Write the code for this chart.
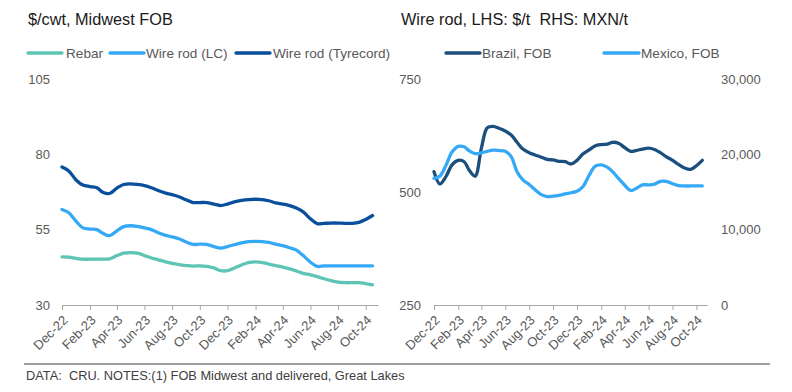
<!DOCTYPE html>
<html>
<head>
<meta charset="utf-8">
<script src="https://cdn.jsdelivr.net/npm/d3@7"></script>
<style>
  html, body { margin: 0; padding: 0; background: #fff; }
  svg { display: block; font-family: "Liberation Sans", Arial, sans-serif; }
  .axis text { fill: #595959; font-size: 13px; }
  .axis path, .axis line { stroke: #a6a6a6; }
  .title { font-size: 16.3px; fill: #1a1a1a; }
  .legend text { font-size: 13.6px; fill: #595959; }
  .note { font-size: 12.8px; fill: #404040; }
</style>
</head>
<body>
<svg id="chart" width="792" height="392"></svg>
<script>
const d3w = window.d3;

// Semi-monthly observation dates (shared by both panels)
const dates = [
  "2022-12-01","2022-12-16","2023-01-01","2023-01-16","2023-02-01","2023-02-16",
  "2023-03-01","2023-03-16","2023-04-01","2023-04-16","2023-05-01","2023-05-16",
  "2023-06-01","2023-06-16","2023-07-01","2023-07-16","2023-08-01","2023-08-16",
  "2023-09-01","2023-09-16","2023-10-01","2023-10-16","2023-11-01","2023-11-16",
  "2023-12-01","2023-12-16","2024-01-01","2024-01-16","2024-02-01","2024-02-16",
  "2024-03-01","2024-03-16","2024-04-01","2024-04-16","2024-05-01","2024-05-16",
  "2024-06-01","2024-06-16","2024-07-01","2024-07-16","2024-08-01","2024-08-16",
  "2024-09-01","2024-09-16","2024-10-01","2024-10-16"
];
const tickLabels = ["Dec-22","Feb-23","Apr-23","Jun-23","Aug-23","Oct-23","Dec-23","Feb-24","Apr-24","Jun-24","Aug-24","Oct-24"];

// Left panel: $/cwt, Midwest FOB
const rebar = [
  46.0,45.9,45.5,45.2,45.2,45.2,45.2,45.3,46.4,47.2,47.4,47.2,
  46.4,45.6,45.0,44.4,43.8,43.4,43.1,42.9,43.0,42.8,42.3,41.4,
  41.4,42.3,43.3,44.1,44.3,44.1,43.6,43.1,42.6,42.0,41.3,40.5,
  40.0,39.4,38.7,38.1,37.6,37.4,37.4,37.4,37.1,36.7
];
const wireRodLC = [
  61.7,60.6,57.8,55.6,55.2,55.0,53.8,53.0,54.6,56.0,56.3,56.1,
  55.6,55.0,54.0,53.2,52.6,52.0,50.9,50.1,50.2,50.1,49.4,48.9,
  49.4,50.0,50.6,51.0,51.1,51.0,50.8,50.2,49.7,49.0,48.2,46.4,
  44.2,42.8,43.0,43.0,43.0,43.0,43.0,43.0,43.0,43.0
];
const wireRodTyrecord = [
  75.8,74.5,71.5,69.8,69.3,68.9,67.4,67.0,68.8,70.0,70.2,70.0,
  69.6,68.9,68.0,67.2,66.6,65.9,64.9,64.0,64.0,64.0,63.5,63.0,
  63.5,64.2,64.7,65.0,65.1,65.0,64.6,63.9,63.5,63.0,62.2,60.9,
  58.6,57.0,57.1,57.2,57.2,57.1,57.1,57.4,58.4,59.7
];
const leftTicks = [30, 55, 80, 105];

// Right panel: wire rod, LHS $/t, RHS MXN/t
const brazilFOB = [
  545,518,535,560,570,567,548,535,597,642,645,641,
  635,626,610,595,587,582,577,572,571,568,567,562,
  570,584,593,602,605,606,610,608,598,590,592,595,
  597,594,587,578,570,561,553,550,558,570
];
const mexicoFOB = [
  16800,17100,18600,20300,21050,21000,20450,20100,20200,20400,20550,20500,
  20400,19700,17700,16600,16000,15300,14650,14400,14450,14550,14750,14900,
  15100,15700,17200,18400,18600,18300,17700,16800,15900,15200,15500,15950,
  15950,16050,16400,16400,16100,15850,15800,15800,15800,15800
];
const lhsTicks = [250, 500, 750];
const rhsTicks = [0, 10000, 20000, 30000];

const C_REBAR = "#5ec4b6", C_LIGHT = "#36a9f6", C_DARK = "#0a4f9e", C_BRAZIL = "#1b4f7d";

const parseDay = d3w.timeParse("%Y-%m-%d");
const parseTick = d3w.timeParse("%b-%y");
const when = dates.map(parseDay);
const tickDates = tickLabels.map(parseTick);
const xDomain = [parseDay("2022-12-01"), parseDay("2024-10-28")];

const svg = d3w.select("#chart");
const TOP = 79, BASE = 305;

function xAxis(g, x) {
  g.attr("class", "axis").attr("transform", `translate(0,${BASE})`)
    .call(d3w.axisBottom(x).tickValues(tickDates).tickSize(5).tickSizeOuter(0)
      .tickFormat((d, i) => tickLabels[i]));
  g.selectAll(".tick text")
    .attr("x", 0).attr("y", 0).attr("dy", 0)
    .attr("text-anchor", "end")
    .attr("transform", "translate(6,16) rotate(-45)");
}

function drawLine(g, x, y, vals, color) {
  const pts = vals.map((v, i) => [x(when[i]), y(v)]);
  g.append("path").datum(pts)
    .attr("fill", "none").attr("stroke", color).attr("stroke-width", 3.3)
    .attr("stroke-linejoin", "round").attr("stroke-linecap", "round")
    .attr("d", d3w.line().curve(d3w.curveCatmullRom.alpha(0.5)));
}

function legend(items) {
  const lg = svg.append("g").attr("class", "legend");
  for (const it of items) {
    lg.append("line").attr("x1", it.x1).attr("x2", it.x2).attr("y1", 53).attr("y2", 53)
      .attr("stroke", it.color).attr("stroke-width", 3.3).attr("stroke-linecap", "round");
    lg.append("text").attr("x", it.tx).attr("y", 57.8).text(it.name);
  }
}

// ---- Left panel
{
  const x = d3w.scaleTime().domain(xDomain).range([62, 378]);
  const y = d3w.scaleLinear().domain([30, 105]).range([BASE, TOP]);
  const g = svg.append("g");

  svg.append("text").attr("class", "title").attr("x", 28).attr("y", 25).text("$/cwt, Midwest FOB");

  const ya = g.append("g").attr("class", "axis").attr("transform", "translate(62,0)")
    .call(d3w.axisLeft(y).tickValues(leftTicks).tickSize(0).tickPadding(12));
  ya.select(".domain").remove();
  g.append("g").call(xAxis, x);

  drawLine(g, x, y, rebar, C_REBAR);
  drawLine(g, x, y, wireRodLC, C_LIGHT);
  drawLine(g, x, y, wireRodTyrecord, C_DARK);

  legend([
    { name: "Rebar", color: C_REBAR, x1: 28, x2: 62, tx: 66 },
    { name: "Wire rod (LC)", color: C_LIGHT, x1: 110, x2: 144, tx: 146 },
    { name: "Wire rod (Tyrecord)", color: C_DARK, x1: 236, x2: 270, tx: 273 }
  ]);
}

// ---- Right panel
{
  const x = d3w.scaleTime().domain(xDomain).range([434, 707]);
  const yL = d3w.scaleLinear().domain([250, 750]).range([BASE, TOP]);
  const yR = d3w.scaleLinear().domain([0, 30000]).range([BASE, TOP]);
  const g = svg.append("g");

  svg.append("text").attr("class", "title").attr("x", 401).attr("y", 25)
    .attr("xml:space", "preserve").style("white-space", "pre")
    .text("Wire rod, LHS: $/t  RHS: MXN/t");

  const yl = g.append("g").attr("class", "axis").attr("transform", "translate(434,0)")
    .call(d3w.axisLeft(yL).tickValues(lhsTicks).tickSize(0).tickPadding(13));
  yl.select(".domain").remove();
  const yr = g.append("g").attr("class", "axis").attr("transform", "translate(707,0)")
    .call(d3w.axisRight(yR).tickValues(rhsTicks).tickSize(0).tickPadding(14).tickFormat(d3w.format(",")));
  yr.select(".domain").remove();
  g.append("g").call(xAxis, x);

  drawLine(g, x, yL, brazilFOB, C_BRAZIL);
  drawLine(g, x, yR, mexicoFOB, C_LIGHT);

  legend([
    { name: "Brazil, FOB", color: C_BRAZIL, x1: 446, x2: 480, tx: 482 },
    { name: "Mexico, FOB", color: C_LIGHT, x1: 604, x2: 639, tx: 641 }
  ]);
}

// ---- Footer
svg.append("line").attr("x1", 24).attr("x2", 770).attr("y1", 364).attr("y2", 364)
  .attr("stroke", "#404040").attr("stroke-width", 1);
svg.append("text").attr("class", "note").attr("x", 26).attr("y", 380)
  .attr("xml:space", "preserve").style("white-space", "pre")
  .text("DATA:  CRU. NOTES:(1) FOB Midwest and delivered, Great Lakes");
</script>
</body>
</html>
